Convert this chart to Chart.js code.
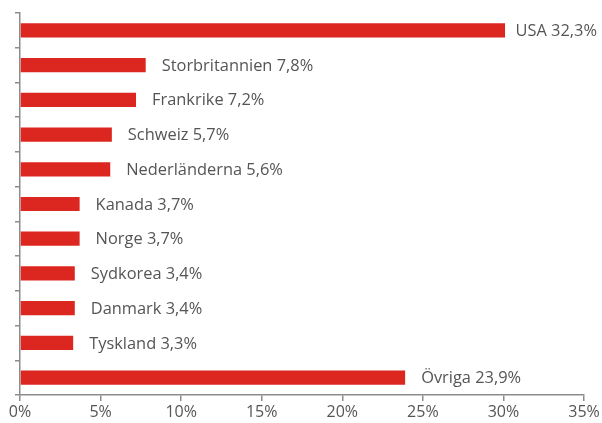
<!DOCTYPE html>
<html>
<head>
<meta charset="utf-8">
<script src="https://cdn.jsdelivr.net/npm/chart.js@4"></script>
<style>
html,body{margin:0;padding:0;background:#fff;}
#wrap{width:602px;height:423px;position:relative;}
</style>
</head>
<body>
<div id="wrap"><canvas id="c" width="602" height="423"></canvas></div>
<script>
const categories = ["USA","Storbritannien","Frankrike","Schweiz","Nederländerna","Kanada","Norge","Sydkorea","Danmark","Tyskland","Övriga"];
const shareText = ["32,3%","7,8%","7,2%","5,7%","5,6%","3,7%","3,7%","3,4%","3,4%","3,3%","23,9%"];
const barValues = [30.1,7.8,7.2,5.7,5.6,3.7,3.7,3.4,3.4,3.3,23.9];
const xTicks = [0,5,10,15,20,25,30,35];

const FONT = "'Open Sans', 'DejaVu Sans', sans-serif";
const TXT = '#555555';
const AXIS = '#8c8c8c';

const labelPlugin = {
  id: 'barLabels',
  afterDatasetsDraw(chart) {
    const ctx = chart.ctx;
    const meta = chart.getDatasetMeta(0);
    ctx.save();
    ctx.font = "16.4px " + FONT;
    ctx.fillStyle = TXT;
    ctx.textBaseline = 'middle';
    ctx.textAlign = 'left';
    meta.data.forEach((bar, i) => {
      const txt = categories[i] + ' ' + shareText[i];
      const w = ctx.measureText(txt).width;
      let x = bar.x + 16;
      x = Math.min(x, chart.width - w - 5);
      ctx.fillText(txt, x, bar.y + 1);
    });
    ctx.restore();
  }
};

new Chart(document.getElementById('c'), {
  type: 'bar',
  data: {
    labels: categories,
    datasets: [{
      data: barValues,
      backgroundColor: '#dc2721',
      borderWidth: 0,
      barPercentage: 0.41,
      categoryPercentage: 1.0
    }]
  },
  options: {
    indexAxis: 'y',
    responsive: false,
    animation: false,
    devicePixelRatio: 1,
    layout: { padding: { top: 13, right: 18, left: 0, bottom: 0 } },
    plugins: { legend: { display: false }, tooltip: { enabled: false } },
    scales: {
      x: {
        min: 0, max: 35,
        afterBuildTicks(axis) { axis.ticks = xTicks.map(v => ({ value: v })); },
        afterFit(s) { s.height = 28; },
        ticks: {
          callback: v => v + '%',
          color: TXT,
          font: { family: FONT, size: 16 },
          padding: 2,
          maxRotation: 0
        },
        grid: { drawOnChartArea: false, drawTicks: true, tickLength: 6, color: AXIS, lineWidth: 1.5 },
        border: { display: true, color: AXIS, width: 1.5 }
      },
      y: {
        afterFit(s) { s.width = 20; },
        ticks: { display: true, callback: () => '', padding: 0, font: { size: 1 } },
        grid: { offset: true, drawOnChartArea: false, drawTicks: true, tickLength: 5, color: AXIS, lineWidth: 1.5 },
        border: { display: true, color: AXIS, width: 1.5 }
      }
    }
  },
  plugins: [labelPlugin]
});
</script>
</body>
</html>
